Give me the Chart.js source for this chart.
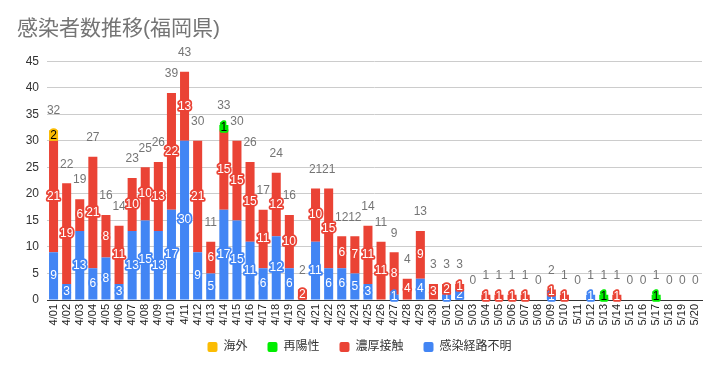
<!DOCTYPE html>
<html>
<head>
<meta charset="utf-8">
<script src="https://cdn.jsdelivr.net/npm/chart.js@4.4.0/dist/chart.umd.min.js"></script>
<style>
html, body { margin: 0; padding: 0; background: #fff; }
#wrap { width: 722px; height: 371px; }
</style>
</head>
<body>
<div id="wrap"><canvas id="chart"></canvas></div>
<script>
const dates = ['4/01', '4/02', '4/03', '4/04', '4/05', '4/06', '4/07', '4/08', '4/09', '4/10',
               '4/11', '4/12', '4/13', '4/14', '4/15', '4/16', '4/17', '4/18', '4/19', '4/20',
               '4/21', '4/22', '4/23', '4/24', '4/25', '4/26', '4/27', '4/28', '4/29', '4/30',
               '5/01', '5/02', '5/03', '5/04', '5/05', '5/06', '5/07', '5/08', '5/09', '5/10',
               '5/11', '5/12', '5/13', '5/14', '5/15', '5/16', '5/17', '5/18', '5/19', '5/20'];
const unknownRoute = [9, 3, 13, 6, 8, 3, 13, 15, 13, 17, 30, 9, 5, 17, 15, 11, 6, 12, 6, 0,
                      11, 6, 6, 5, 3, 0, 1, 0, 4, 0, 1, 2, 0, 0, 0, 0, 0, 0, 1, 0,
                      0, 1, 0, 0, 0, 0, 0, 0, 0, 0];
const closeContact = [21, 19, 6, 21, 8, 11, 10, 10, 13, 22, 13, 21, 6, 15, 15, 15, 11, 12, 10, 2,
                      10, 15, 6, 7, 11, 11, 8, 4, 9, 3, 2, 1, 0, 1, 1, 1, 1, 0, 1, 1,
                      0, 0, 0, 1, 0, 0, 0, 0, 0, 0];
const repositive = [0, 0, 0, 0, 0, 0, 0, 0, 0, 0, 0, 0, 0, 1, 0, 0, 0, 0, 0, 0,
                    0, 0, 0, 0, 0, 0, 0, 0, 0, 0, 0, 0, 0, 0, 0, 0, 0, 0, 0, 0,
                    0, 0, 1, 0, 0, 0, 1, 0, 0, 0];
const overseas = [2, 0, 0, 0, 0, 0, 0, 0, 0, 0, 0, 0, 0, 0, 0, 0, 0, 0, 0, 0,
                  0, 0, 0, 0, 0, 0, 0, 0, 0, 0, 0, 0, 0, 0, 0, 0, 0, 0, 0, 0,
                  0, 0, 0, 0, 0, 0, 0, 0, 0, 0];
const yTicks = [0, 5, 10, 15, 20, 25, 30, 35, 40, 45];

const FONT = '"Liberation Sans", "Noto Sans CJK JP", sans-serif';

// segment values in the middle of each piece, totals above the stack
const barLabels = {
    id: 'barLabels',
    afterDatasetsDraw(chart) {
        const ctx = chart.ctx;
        const yScale = chart.scales.y;
        ctx.save();
        ctx.textAlign = 'center';
        ctx.textBaseline = 'middle';
        ctx.lineJoin = 'round';
        ctx.font = '12px ' + FONT;
        chart.data.datasets.forEach((ds, di) => {
            chart.getDatasetMeta(di).data.forEach((bar, i) => {
                const v = ds.data[i];
                if (!v) return;
                const y = (bar.y + bar.base) / 2;
                ctx.lineWidth = 3.5;
                ctx.strokeStyle = ds.backgroundColor;
                ctx.strokeText(v, bar.x, y);
                ctx.fillStyle = ds.labelColor;
                ctx.fillText(v, bar.x, y);
            });
        });
        ctx.fillStyle = '#757575';
        const xMeta = chart.getDatasetMeta(0).data;
        dates.forEach((d, i) => {
            const total = chart.data.datasets.reduce((s, ds) => s + ds.data[i], 0);
            ctx.fillText(total, xMeta[i].x, yScale.getPixelForValue(total) - 19);
        });
        ctx.restore();
    }
};

// pull the legend up a little so it sits closer to the date labels
const legendNudge = {
    id: 'legendNudge',
    afterLayout(chart) {
        chart.legend.top -= 6;
        chart.legend.bottom -= 6;
    }
};

new Chart(document.getElementById('chart'), {
    type: 'bar',
    data: {
        labels: dates,
        datasets: [
            {label: '感染経路不明', data: unknownRoute, backgroundColor: '#4285f4', labelColor: '#fff'},
            {label: '濃厚接触', data: closeContact, backgroundColor: '#ea4335', labelColor: '#fff'},
            {label: '再陽性', data: repositive, backgroundColor: '#00ee00', labelColor: '#000'},
            {label: '海外', data: overseas, backgroundColor: '#fbbc04', labelColor: '#000'}
        ]
    },
    options: {
        responsive: true,
        maintainAspectRatio: false,
        animation: false,
        layout: {padding: {left: 17, right: 20, top: 0, bottom: 2}},
        datasets: {bar: {barPercentage: 0.69, categoryPercentage: 1}},
        scales: {
            x: {
                stacked: true,
                grid: {display: false, drawTicks: false},
                border: {display: true, color: '#333', width: 1},
                ticks: {autoSkip: false, minRotation: 90, maxRotation: 90, padding: 4,
                        color: '#222', font: {family: FONT, size: 11}},
                afterFit(scale) { scale.height = 27; }
            },
            y: {
                stacked: true,
                min: 0,
                max: 45,
                afterBuildTicks(scale) { scale.ticks = yTicks.map(v => ({value: v})); },
                grid: {color: ctx => ctx.tick && ctx.tick.value === 0 ? 'rgba(0,0,0,0)' : '#cccccc', drawTicks: false},
                border: {display: false},
                ticks: {padding: 8, color: '#333', font: {family: FONT, size: 12}},
                afterFit(scale) { scale.width = 30; }
            }
        },
        plugins: {
            title: {
                display: true,
                text: '感染者数推移(福岡県)',
                align: 'start',
                color: '#757575',
                font: {family: FONT, size: 21, weight: 'normal'},
                padding: {top: 17, bottom: 19}
            },
            legend: {
                position: 'bottom',
                reverse: true,
                labels: {boxWidth: 10, boxHeight: 10, padding: 20, useBorderRadius: true, borderRadius: 2,
                         color: '#333', font: {family: FONT, size: 12}}
            },
            tooltip: {enabled: false}
        }
    },
    plugins: [barLabels, legendNudge]
});
</script>
</body>
</html>
